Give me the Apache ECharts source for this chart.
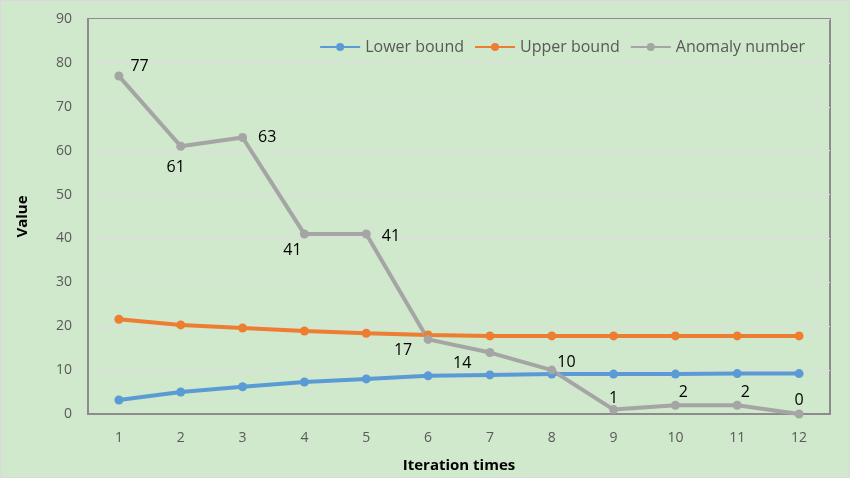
<!DOCTYPE html>
<html>
<head>
<meta charset="utf-8">
<script src="https://cdn.jsdelivr.net/npm/echarts@6/dist/echarts.min.js"></script>
<style>
  html, body { margin: 0; padding: 0; background: #fff; }
  #chart { width: 848px; height: 476px; border: 1px solid #d9d9d9; }
</style>
</head>
<body>
<div id="chart"></div>
<script>
const iterations = ["1", "2", "3", "4", "5", "6", "7", "8", "9", "10", "11", "12"];
const lowerBound = [3.2, 5.0, 6.2, 7.3, 8.0, 8.7, 8.9, 9.1, 9.1, 9.1, 9.2, 9.2];
const upperBound = [21.6, 20.3, 19.6, 18.9, 18.4, 18.0, 17.8, 17.8, 17.8, 17.8, 17.8, 17.8];
const anomalyNumber = [77, 61, 63, 41, 41, 17, 14, 10, 1, 2, 2, 0];

const chart = echarts.init(document.getElementById("chart"));

// where each anomaly label sits relative to its point
const labelPlace = [
  ["right", [2, -10]], ["bottom", [-5, 4]], ["right", [6, 0]], ["bottom", [-12, -1]],
  ["right", [6, 2]], ["bottom", [-25, -6]], ["left", [-9, 11]], ["right", [-4, -8]],
  ["top", [0, 6]], ["top", [8, 5]], ["top", [8, 5]], ["top", [0, 4]]
];

const lineSeries = (name, data, color) => ({
  name: name,
  type: "line",
  data: data,
  symbol: "circle",
  symbolSize: 9,
  lineStyle: { width: 4, color: color },
  itemStyle: { color: color },
  animation: false
});

const anomaly = lineSeries("Anomaly number", anomalyNumber.map((v, i) => ({
  value: v,
  label: { position: labelPlace[i][0], offset: labelPlace[i][1] }
})), "#a5a5a5");
anomaly.label = {
  show: true,
  color: "#000",
  fontSize: 16,
  fontFamily: "Open Sans"
};

chart.setOption({
  backgroundColor: "#d0e8cb",
  textStyle: { fontFamily: "Open Sans" },
  grid: {
    left: 87, right: 19, top: 18, bottom: 63,
    outerBoundsMode: "none",
    containLabel: false,
    show: true,
    borderColor: "#8c8c8c",
    borderWidth: 2,
    backgroundColor: "#d0e8cb"
  },
  legend: {
    top: 33,
    right: 39,
    itemWidth: 40,
    itemHeight: 10,
    itemGap: 10,
    textStyle: { color: "#595959", fontSize: 16 },
    data: ["Lower bound", "Upper bound", "Anomaly number"]
  },
  xAxis: {
    type: "category",
    data: iterations,
    boundaryGap: true,
    name: "Iteration times",
    nameLocation: "middle",
    nameGap: 44,
    nameTextStyle: { color: "#000", fontWeight: "bold", fontSize: 15 },
    axisLine: { lineStyle: { color: "#8c8c8c", width: 2 } },
    axisTick: { show: false },
    axisLabel: { color: "#595959", fontSize: 14, margin: 17 }
  },
  yAxis: {
    type: "value",
    min: 0,
    max: 90,
    interval: 10,
    name: "Value",
    nameLocation: "middle",
    nameGap: 58,
    nameTextStyle: { color: "#000", fontWeight: "bold", fontSize: 15 },
    axisLine: { show: true, lineStyle: { color: "#8c8c8c", width: 2 } },
    axisLabel: { color: "#595959", fontSize: 14, margin: 16 },
    splitLine: { lineStyle: { color: "#dedede", width: 1 } }
  },
  series: [
    lineSeries("Lower bound", lowerBound, "#5b9bd5"),
    lineSeries("Upper bound", upperBound, "#ed7d31"),
    anomaly
  ]
});
</script>
</body>
</html>
